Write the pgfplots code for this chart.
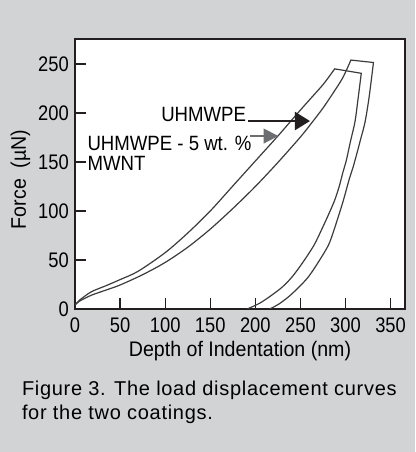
\documentclass[border=0pt]{standalone}
\usepackage{fontspec}
\setmainfont{Liberation Sans}
\newfontfamily\tickfont[FakeStretch=0.87]{Liberation Sans}
\newfontfamily\labfont[FakeStretch=0.93]{Liberation Sans}
\newfontfamily\annfont[FakeStretch=0.9]{Liberation Sans}
\newfontfamily\capfont[LetterSpace=3.5]{Liberation Sans}
\usepackage{pgfplots}
\pgfplotsset{compat=1.18}
\usetikzlibrary{arrows.meta}
\definecolor{bg}{HTML}{D1D3D4}
\definecolor{frame}{HTML}{231F20}
\definecolor{curve}{HTML}{3C3C3C}
\definecolor{garrow}{HTML}{6D6E71}

\begin{document}
\begin{tikzpicture}
\useasboundingbox (0,0) rectangle (311.25pt,339pt);
\fill[bg] (0,0) rectangle (311.25pt,339pt);
\begin{axis}[
  at={(56.25pt,107.25pt)}, anchor=south west,
  scale only axis, width=247.5pt, height=202.5pt,
  xmin=0, xmax=366, ymin=0, ymax=275.5,
  xtick={0,50,...,350}, ytick={0,50,...,250},
  tick pos=left, tick align=inside,
  major tick length=8pt,
  tick style={line width=0.9pt, color=frame},
  axis line style={line width=2pt, color=frame},
  axis background/.style={fill=white},
  /pgf/number format/assume math mode=true,
  tick label style={font=\fontsize{15.8pt}{18pt}\tickfont, text=black},
  xticklabel style={anchor=base, inner sep=0pt, yshift=-18pt},
  yticklabel style={anchor=east, inner sep=0pt, xshift=-4.5pt},
  xlabel={Depth of Indentation (nm)},
  ylabel={Force\ \ (µN)},
  label style={font=\fontsize{15.8pt}{18pt}\labfont},
  xlabel style={at={(axis description cs:0.5,-0.1767)}, anchor=base},
  ylabel style={at={(axis description cs:-0.1485,0.48)}, anchor=base},
  cycle list={{curve, no marks}},
  every axis plot/.append style={curve, no marks, line width=0.9pt, line join=round, line cap=round},
]
% UHMWPE - 5 wt.% MWNT : loading, plateau, unloading
\addplot[curve, no marks, smooth, tension=0.5] coordinates {
 (0,4) (5,9) (18,17.5) (35,24) (50,30) (70,38.5) (100,57.5) (125,77.5) (150,100)
 (175,125.5) (200,151) (225,176.5) (250,203) (265,218.5) (276,230) (288,245)};
\addplot[curve, no marks] coordinates {(288,245) (317.5,240.5)};
\addplot[curve, no marks, smooth, tension=0.5] coordinates {
 (317.5,240.5) (314,215) (310.5,191) (305.5,171) (301,152) (297,139) (293,125) (288,111) (281,96)
 (273,80) (265,65) (253,48) (241,33) (230,22.5) (218,14) (205,6) (191,0)};
% UHMWPE : loading, plateau, unloading
\addplot[curve, no marks, smooth, tension=0.5] coordinates {
 (0,4) (5,8) (18,14) (35,19.5) (50,24.5) (75,35) (100,47.5) (125,63) (150,81.5)
 (175,102.5) (200,125) (225,149.5) (250,175.5) (263,190.5) (275,205) (286,220) (297,236) (306,254)};
\addplot[curve, no marks] coordinates {(306,254) (331,251.5)};
\addplot[curve, no marks, smooth, tension=0.5] coordinates {
 (331,251.5) (326,215) (321.5,190) (317,174) (313,160) (308.5,145) (304,132) (298,112) (293,97)
 (287,80) (281,65) (270,48) (259,33) (248,22) (237,12.6) (226,5) (216,0)};

\node[anchor=base west, inner sep=0pt, font=\fontsize{15.5pt}{18pt}\annfont] at (axis cs:95.4,191.8) {UHMWPE};
\node[anchor=base west, inner sep=0pt, font=\fontsize{15.5pt}{18pt}\annfont] at (axis cs:13.6,162.2) {UHMWPE - 5 wt. \%};
\node[anchor=base west, inner sep=0pt, font=\fontsize{15.5pt}{18pt}\annfont] at (axis cs:13.6,141.8) {MWNT};
\draw[frame, line width=1.6pt, -{Triangle[length=11.25pt,width=13.5pt]}] (axis cs:191.9,191.8) -- (axis cs:260.6,191.8);
\draw[garrow, line width=1.3pt, -{Triangle[length=11pt,width=11pt]}] (axis cs:194,176.5) -- (axis cs:225.5,176.5);
\end{axis}
\node[anchor=base west, inner sep=0pt, font=\fontsize{15pt}{18pt}\capfont] at (16.3pt,42pt) {Figure 3. The load displacement curves};
\node[anchor=base west, inner sep=0pt, font=\fontsize{15pt}{18pt}\capfont] at (16.3pt,24pt) {for the two coatings.};
\end{tikzpicture}
\end{document}
